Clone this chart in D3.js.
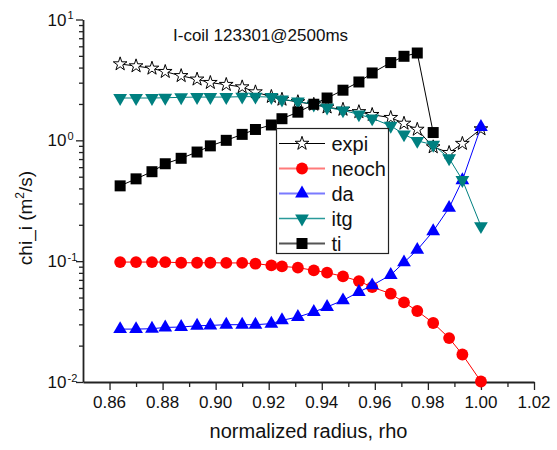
<!DOCTYPE html>
<html>
<head>
<meta charset="utf-8">
<script src="https://cdn.jsdelivr.net/npm/d3@7"></script>
<style>
  html, body { margin: 0; padding: 0; background: #fff; }
  svg { display: block; font-family: Arial, "Liberation Sans", Helvetica, sans-serif; }
</style>
</head>
<body>
<svg id="chart" width="557" height="450"></svg>
<script>
// Normalized radius (shared grid)
const rho = [0.864, 0.870, 0.876, 0.881, 0.887, 0.893, 0.898, 0.904, 0.910, 0.915,
             0.921, 0.925, 0.931, 0.937, 0.942, 0.948, 0.954, 0.959, 0.966, 0.971,
             0.976, 0.982, 0.988, 0.993, 1.000];

// Ion diffusivity contributions, m^2/s
const expi  = [4.28, 4.12, 3.94, 3.70, 3.42, 3.20, 3.00, 2.89, 2.76, 2.51,
               2.30, 2.18, 2.08, 1.98, 1.88, 1.80, 1.72, 1.63, 1.54, 1.38,
               1.23, 0.88, 0.79, 0.94, 1.24];
const neoch = [0.0983, 0.0983, 0.0983, 0.0983, 0.0970, 0.0970, 0.0970, 0.0967, 0.0967, 0.0953,
               0.0923, 0.0905, 0.0884, 0.0839, 0.0803, 0.0749, 0.0684, 0.0610, 0.0538, 0.0456,
               0.0387, 0.0308, 0.0231, 0.0169, 0.0101];
const da    = [0.0274, 0.0274, 0.0276, 0.0283, 0.0285, 0.0292, 0.0294, 0.0298, 0.0298, 0.0298,
               0.0304, 0.0324, 0.0345, 0.0380, 0.0418, 0.0474, 0.0556, 0.0631, 0.0769, 0.0977,
               0.124, 0.177, 0.276, 0.467, 1.29];
const itg   = [2.24, 2.24, 2.24, 2.25, 2.27, 2.28, 2.28, 2.28, 2.30, 2.30,
               2.28, 2.18, 2.10, 1.98, 1.87, 1.77, 1.64, 1.52, 1.32, 1.12,
               0.99, 0.92, 0.71, 0.47, 0.195];
// ti is only available up to rho = 0.982
const ti    = [0.42, 0.48, 0.55, 0.64, 0.71, 0.80, 0.90, 1.00, 1.12, 1.23,
               1.34, 1.51, 1.71, 1.99, 2.24, 2.60, 3.04, 3.61, 4.40, 4.96,
               5.28, 1.16];

const xTicks = [0.86, 0.88, 0.90, 0.92, 0.94, 0.96, 0.98, 1.00, 1.02];
const xTickLabels = ["0.86", "0.88", "0.90", "0.92", "0.94", "0.96", "0.98", "1.00", "1.02"];
const yTicks = [0.01, 0.1, 1, 10];
const yTickExps = ["-2", "-1", "0", "1"];

const title = "I-coil 123301@2500ms";

const svg = d3.select("#chart");

const x = d3.scaleLinear().domain([0.85, 1.02]).range([83, 534]);
const y = d3.scaleLog().domain([0.01, 10]).range([382, 19.5]);

// ---- axes ----
const xMinor = d3.range(0.87, 1.02, 0.02).map(v => +v.toFixed(2));
svg.append("g").attr("transform", "translate(0,382)")
  .call(d3.axisBottom(x).tickValues(xMinor).tickSize(5).tickFormat(""))
  .call(g => g.select(".domain").remove());
svg.append("g").attr("transform", "translate(0,382)")
  .call(d3.axisBottom(x).tickValues(xTicks).tickSize(8).tickSizeOuter(0).tickFormat(""));

const yMinor = [];
[0.01, 0.1, 1].forEach(d => { for (let k = 2; k <= 9; k++) yMinor.push(d * k); });
svg.append("g").attr("transform", "translate(83,0)")
  .call(d3.axisLeft(y).tickValues(yMinor).tickSize(4).tickFormat(""))
  .call(g => g.select(".domain").remove());
svg.append("g").attr("transform", "translate(83,0)")
  .call(d3.axisLeft(y).tickValues(yTicks).tickSize(7).tickSizeOuter(0).tickFormat(""));

svg.selectAll(".tick line").attr("stroke", "#222").attr("stroke-width", 1.3);
svg.selectAll(".domain").attr("stroke", "#222").attr("stroke-width", 1.8);

// x tick labels
svg.append("g").selectAll("text").data(xTicks).join("text")
  .attr("x", d => x(d)).attr("y", 408)
  .attr("text-anchor", "middle").attr("font-size", 17).attr("fill", "#111")
  .text((d, i) => xTickLabels[i]);

// y tick labels: 10 with superscript exponent
const yl = svg.append("g").selectAll("g").data(yTicks).join("g");
yl.append("text")
  .attr("x", 66.5).attr("y", d => y(d) + 6)
  .attr("text-anchor", "end").attr("font-size", 17).attr("fill", "#111")
  .text("10");
yl.append("text")
  .attr("x", 67.5).attr("y", d => y(d) - 0.5)
  .attr("font-size", 11).attr("fill", "#111")
  .text((d, i) => yTickExps[i]);

// axis titles
svg.append("text")
  .attr("x", 308.5).attr("y", 438)
  .attr("text-anchor", "middle").attr("font-size", 20).attr("fill", "#111")
  .text("normalized radius, rho");

const yt = svg.append("text")
  .attr("transform", "translate(32,218) rotate(-90)")
  .attr("text-anchor", "middle").attr("font-size", 19).attr("fill", "#111");
yt.append("tspan").text("chi_i (m");
yt.append("tspan").attr("font-size", 12).attr("dy", -8).text("2");
yt.append("tspan").attr("dy", 8).text("/s)");

// title
svg.append("text")
  .attr("x", 173).attr("y", 40.5)
  .attr("font-size", 17).attr("fill", "#111")
  .text(title);

// ---- series ----
const series = [
  { name: "expi",  vals: expi,  line: "#000", legLine: "#000", legW: 1.2, sym: d3.symbolStar, size: 58, fill: "#fff", stroke: "#000", rot: 0 },
  { name: "neoch", vals: neoch, line: "#f00", legLine: "#ff7a7a", legW: 2, sym: d3.symbolCircle, size: 110, fill: "#f00", stroke: "none", rot: 0 },
  { name: "da",    vals: da,    line: "#00f", legLine: "#7a7aff", legW: 2, sym: d3.symbolTriangle, size: 82, fill: "#00f", stroke: "none", rot: 0 },
  { name: "itg",   vals: itg,   line: "#008080", legLine: "#2a9a9a", legW: 1.6, sym: d3.symbolTriangle, size: 82, fill: "#008080", stroke: "none", rot: 180 },
  { name: "ti",    vals: ti,    line: "#000", legLine: "#555", legW: 2, sym: d3.symbolSquare, size: 121, fill: "#000", stroke: "none", rot: 0 }
];

const line = d3.line().x(d => x(d[0])).y(d => y(d[1]));

series.forEach(s => {
  const pts = s.vals.map((v, i) => [rho[i], v]);
  const g = svg.append("g");
  g.append("path").attr("d", line(pts))
    .attr("fill", "none").attr("stroke", s.line).attr("stroke-width", 1);
  g.selectAll("path.m").data(pts).join("path").attr("class", "m")
    .attr("d", d3.symbol().type(s.sym).size(s.size))
    .attr("transform", d => `translate(${x(d[0])},${y(d[1])}) rotate(${s.rot})`)
    .attr("fill", s.fill).attr("stroke", s.stroke).attr("stroke-width", 1);
});

// ---- legend ----
const leg = svg.append("g");
leg.append("rect")
  .attr("x", 276.5).attr("y", 128.5).attr("width", 112).attr("height", 125)
  .attr("fill", "#fff").attr("stroke", "#222").attr("stroke-width", 1.2);
series.forEach((s, i) => {
  const cy = 143.5 + i * 25;
  leg.append("line").attr("x1", 279).attr("x2", 325).attr("y1", cy).attr("y2", cy)
    .attr("stroke", s.legLine).attr("stroke-width", s.legW);
  leg.append("path")
    .attr("d", d3.symbol().type(s.sym).size(s.size))
    .attr("transform", `translate(302,${cy}) rotate(${s.rot})`)
    .attr("fill", s.fill).attr("stroke", s.stroke).attr("stroke-width", 1);
  leg.append("text").attr("x", 331.5).attr("y", cy + 7)
    .attr("font-size", 20).attr("fill", "#111").text(s.name);
});
</script>
</body>
</html>
